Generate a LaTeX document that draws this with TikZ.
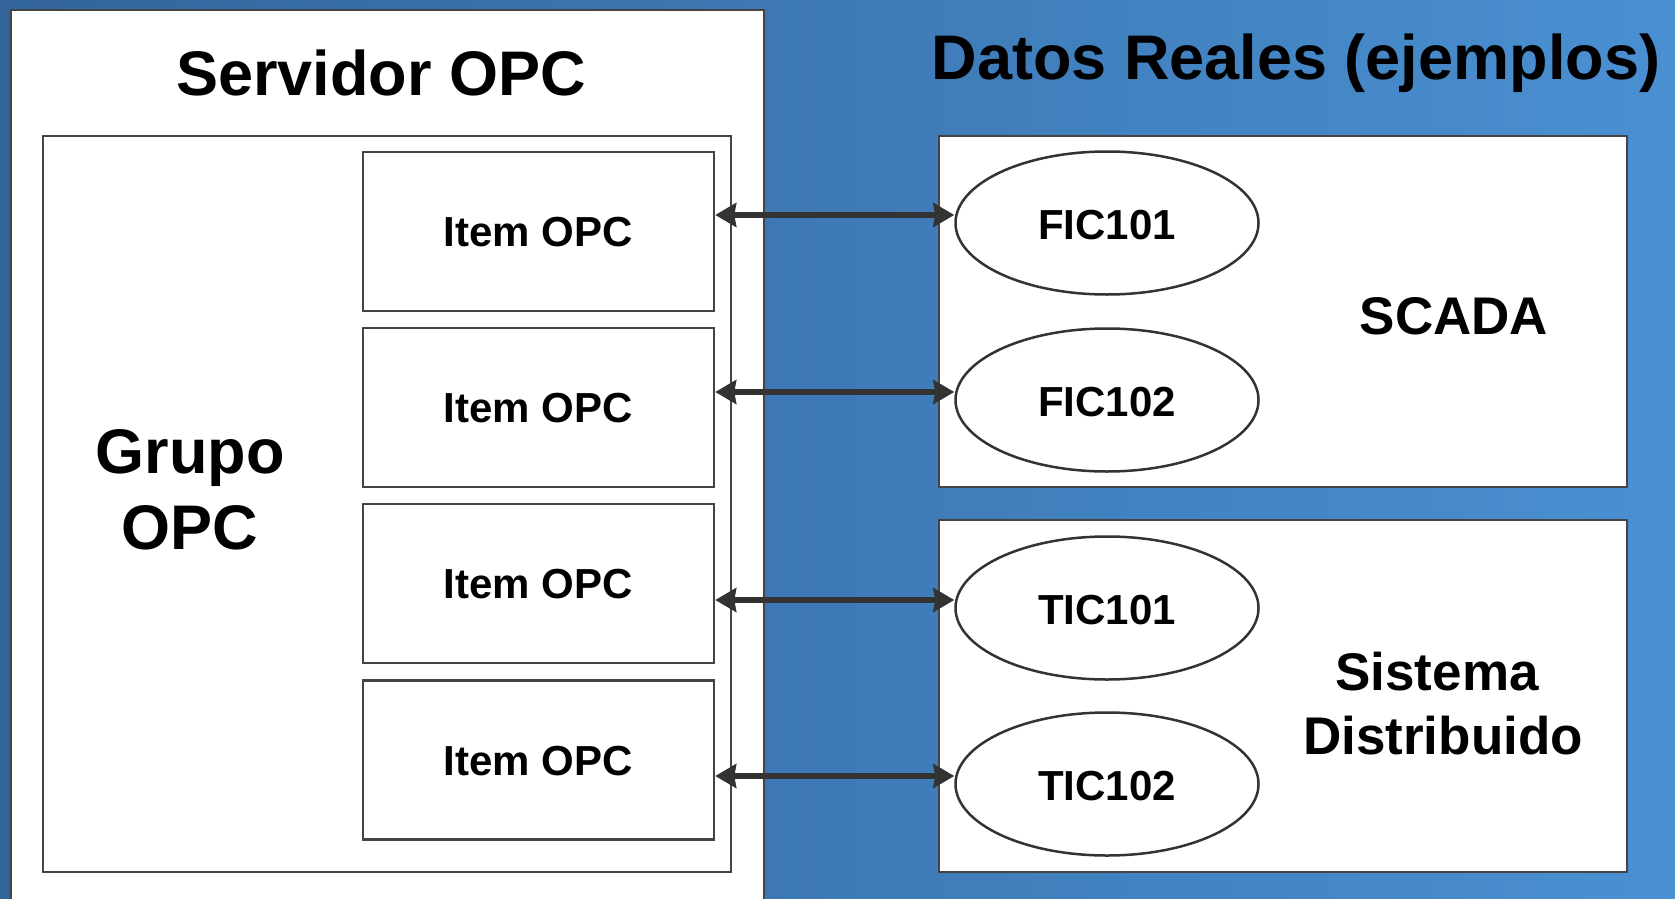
\documentclass[tikz,border=0pt]{standalone}
\usepackage{fontspec}
\setmainfont{Liberation Sans}
\usetikzlibrary{arrows.meta,calc,shapes.geometric}

\definecolor{bgleft}{HTML}{32649A}
\definecolor{bgright}{HTML}{4A90D2}
\definecolor{edge}{HTML}{444444}
\definecolor{arrowgray}{HTML}{333333}

\tikzset{
  panel/.style={draw=edge, line width=2.5pt, fill=white},
  itembox/.style={draw=edge, line width=2.5pt, fill=white, minimum width=351pt,
    minimum height=159pt, inner sep=0pt},
  tag/.style={ellipse, draw=arrowgray, line width=2.5pt, fill=white,
    minimum width=303pt, minimum height=143pt, inner sep=0pt},
  bigtxt/.style={font=\fontsize{63}{75}\selectfont\bfseries, inner sep=0pt, anchor=base},
  midtxt/.style={font=\fontsize{53}{64}\selectfont\bfseries, inner sep=0pt, anchor=base},
  smalltxt/.style={font=\fontsize{42}{50}\selectfont\bfseries, inner sep=0pt, anchor=base},
  link/.style={draw=arrowgray, line width=6.5pt,
    {Stealth[length=21pt,width=24pt,inset=2pt]}-{Stealth[length=21pt,width=24pt,inset=2pt]}},
}

\begin{document}
\begin{tikzpicture}[x=1pt, y=-1pt]
  \clip (0,0) rectangle (1675,899);
  \useasboundingbox (0,0) rectangle (1675,899);
  % background
  \shade[left color=bgleft, right color=bgright] (0,0) rectangle (1675,899);

  % OPC server panel, open at the bottom
  \draw[panel] (11,10) rectangle (764,920);
  \node[bigtxt] (srv) at (381,95) {Servidor OPC};

  % OPC group
  \draw[panel] (43,136) rectangle (731,872);
  \node[bigtxt] (grp1) at (190,473) {Grupo};
  \node[bigtxt] (grp2) at (190,549) {OPC};

  % OPC items
  \node[itembox] (i1) at (538.5,231.5) {};
  \node[itembox] (i2) at (538.5,407.5) {};
  \node[itembox] (i3) at (538.5,583.5) {};
  \node[itembox] (i4) at (538.5,760) {};
  \foreach \n in {i1,i2,i3,i4}
    \node[smalltxt] (\n t) at ($(\n.center)+(0,15)$) {Item OPC};

  % real data
  \node[bigtxt] (data) at (1296,80) {Datos Reales (ejemplos)};

  \draw[panel] (939,136) rectangle (1627,487);
  \node[midtxt] (scada) at (1454,334) {SCADA};
  \draw[panel] (939,520) rectangle (1627,872);
  \node[midtxt] (dcs1) at (1437,690) {Sistema};
  \node[midtxt] (dcs2) at (1443,754) {Distribuido};

  \node[tag] (f1) at (1107,223) {};
  \node[tag] (f2) at (1107,400) {};
  \node[tag] (t1) at (1107,608) {};
  \node[tag] (t2) at (1107,784) {};
  \node[smalltxt] (f1t) at ($(f1.center)+(0,16)$) {FIC101};
  \node[smalltxt] (f2t) at ($(f2.center)+(0,16)$) {FIC102};
  \node[smalltxt] (t1t) at ($(t1.center)+(0,16)$) {TIC101};
  \node[smalltxt] (t2t) at ($(t2.center)+(0,16)$) {TIC102};

  % links between items and tags
  \foreach \a/\b in {i1/f1,i2/f2,i3/t1,i4/t2} {
    \coordinate (\b p) at ($(\b.west)+(0,-8)$);
    \draw[link] (\a.east |- \b p) -- (\b p);
  }
\end{tikzpicture}
\end{document}
